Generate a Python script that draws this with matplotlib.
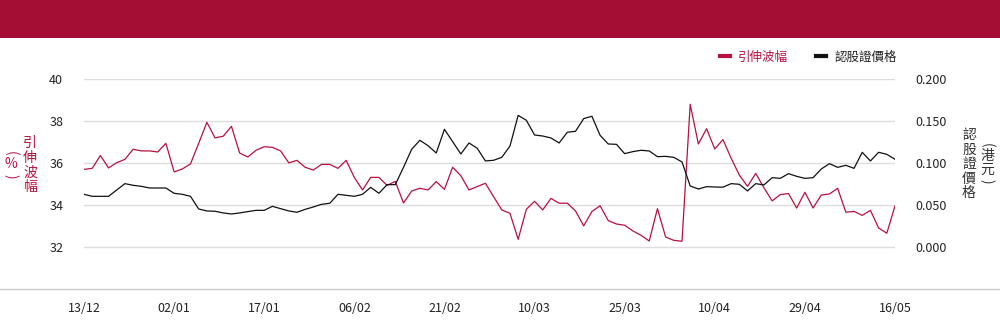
import matplotlib
matplotlib.use('Agg')
import matplotlib.pyplot as plt
from matplotlib.lines import Line2D
from matplotlib.patches import Rectangle

plt.rcParams['font.family'] = ['Noto Sans CJK TC', 'DejaVu Sans']

# implied volatility (%) - left axis
iv = [35.71, 35.76, 36.37, 35.78, 36.03, 36.19, 36.67, 36.59, 36.59, 36.54,
      36.95, 35.59, 35.73, 35.97, 36.95, 37.95, 37.21, 37.29, 37.76, 36.49,
      36.30, 36.62, 36.79, 36.76, 36.59, 36.02, 36.14, 35.81, 35.68, 35.95,
      35.95, 35.76, 36.14, 35.33, 34.73, 35.33, 35.33, 34.95, 35.14, 34.11,
      34.68, 34.81, 34.73, 35.13, 34.76, 35.81, 35.41, 34.73, 34.89, 35.05,
      34.41, 33.78, 33.62, 32.38, 33.81, 34.19, 33.78, 34.33, 34.10, 34.10,
      33.73, 33.02, 33.70, 33.98, 33.27, 33.11, 33.05, 32.78, 32.57, 32.30,
      33.84, 32.49, 32.33, 32.29, 38.81, 36.92, 37.65, 36.68, 37.13, 36.24,
      35.44, 34.90, 35.52, 34.84, 34.21, 34.51, 34.56, 33.87, 34.62, 33.87,
      34.49, 34.54, 34.81, 33.67, 33.71, 33.52, 33.76, 32.92, 32.67, 33.97]

# warrant price (HKD) - right axis
price = [0.0631, 0.0607, 0.0607, 0.0607, 0.0683, 0.0758, 0.0738, 0.0726, 0.0706, 0.0706,
         0.0706, 0.0643, 0.0631, 0.0607, 0.0456, 0.0433, 0.0429, 0.0409, 0.0397, 0.0409,
         0.0425, 0.0440, 0.0440, 0.0488, 0.0460, 0.0433, 0.0417, 0.0452, 0.0480, 0.0512,
         0.0524, 0.0631, 0.0619, 0.0607, 0.0631, 0.0714, 0.0643, 0.0746, 0.0746, 0.0952,
         0.1167, 0.1274, 0.1210, 0.1123, 0.1405, 0.1258, 0.1111, 0.1242, 0.1179, 0.1028,
         0.1036, 0.1071, 0.1206, 0.1571, 0.1512, 0.1337, 0.1325, 0.1302, 0.1242, 0.1370,
         0.1381, 0.1532, 0.1560, 0.1333, 0.1230, 0.1226, 0.1115, 0.1139, 0.1155, 0.1147,
         0.1079, 0.1083, 0.1071, 0.1016, 0.0730, 0.0694, 0.0722, 0.0718, 0.0716, 0.0758,
         0.0750, 0.0671, 0.0758, 0.0742, 0.0829, 0.0821, 0.0877, 0.0845, 0.0821, 0.0829,
         0.0932, 0.0996, 0.0952, 0.0976, 0.0940, 0.1131, 0.1028, 0.1131, 0.1107, 0.1048]

tick_labels = ['13/12', '02/01', '17/01', '06/02', '21/02',
               '10/03', '25/03', '10/04', '29/04', '16/05']
tick_step = 11

red = '#B8103F'
dark = '#111111'
grey = '#333333'

fig = plt.figure(figsize=(10, 3.24), dpi=100, facecolor='white')
fig.patches.append(Rectangle((0, 1 - 38 / 324), 1, 38 / 324, transform=fig.transFigure,
                             facecolor='#A50E34', edgecolor='none'))

ax = fig.add_axes([0.084, 0.1071, 0.811, 0.6481])
ax2 = ax.twinx()

x = list(range(len(iv)))
ax.plot(x, iv, color=red, lw=0.9, zorder=3)
ax2.plot(x, price, color=dark, lw=0.9, zorder=3)

ax.set_xlim(0, len(iv) - 1)
ax.set_ylim(30, 40)
ax.set_yticks([32, 34, 36, 38, 40])
ax2.set_ylim(-0.05, 0.2)
ax2.set_yticks([0, 0.05, 0.10, 0.15, 0.20])
ax2.set_yticklabels([f'{v:.3f}' for v in [0, 0.05, 0.10, 0.15, 0.20]])
ax.set_xticks([i * tick_step for i in range(len(tick_labels))])
ax.set_xticklabels(tick_labels)

ax.grid(axis='y', color='#dddddd', lw=1)
ax.set_axisbelow(True)
for a in (ax, ax2):
    for s in a.spines.values():
        s.set_visible(False)
    a.tick_params(length=0, labelsize=9, labelcolor='#222222')
ax.tick_params(axis='y', pad=15)
ax2.tick_params(axis='y', pad=15)
ax.tick_params(axis='x', pad=9)

# bottom rule across the whole width
fig.add_artist(Line2D([0, 1], [0.1071, 0.1071], transform=fig.transFigure,
                      color='#cccccc', lw=1))


def vtext(xpx, ypx, s, color, rot=0):
    fig.text(xpx / 1000, 1 - ypx / 324, s, color=color, fontsize=10,
             ha='center', va='center', rotation=rot, rotation_mode='anchor')


# vertical axis titles, one glyph per line
fig.text(0.030, 1 - 165 / 324, '\n'.join('引伸波幅'), color=red, fontsize=10,
         ha='center', va='center', linespacing=1.05)
vtext(11, 153, '(', red, -90)
vtext(11, 164, '%', red)
vtext(11, 176, ')', red, -90)

fig.text(0.969, 1 - 164 / 324, '\n'.join('認股證價格'), color=grey, fontsize=10,
         ha='center', va='center', linespacing=1.05)
vtext(987, 145, '(', grey, -90)
vtext(987, 156, '港', grey)
vtext(987, 170, '元', grey)
vtext(987, 181, ')', grey, -90)

handles = [Line2D([], [], color=red, lw=3), Line2D([], [], color=dark, lw=3)]
leg = fig.legend(handles, ['引伸波幅', '認股證價格'], loc='center right',
                 bbox_to_anchor=(0.897, 1 - 57 / 324), ncol=2, frameon=False,
                 fontsize=9, handlelength=0.8, handletextpad=0.7,
                 columnspacing=2.2, borderpad=0, borderaxespad=0)
leg.get_texts()[0].set_color(red)
leg.get_texts()[1].set_color('#222222')

fig.savefig('out.png', dpi=100, facecolor='white')
